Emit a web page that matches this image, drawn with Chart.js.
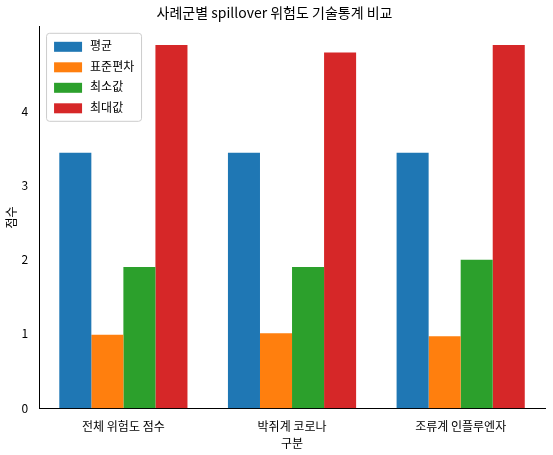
<!DOCTYPE html>
<html lang="ko">
<head>
<meta charset="UTF-8">
<script src="https://cdn.jsdelivr.net/npm/chart.js"></script>
<style>
  body { margin: 0; background: #fff; }
  #wrap { width: 553px; height: 455px; }
</style>
</head>
<body>
<div id="wrap"><canvas id="myChart"></canvas></div>
<script>
const categories = ['전체 위험도 점수', '박쥐계 코로나', '조류계 인플루엔자'];
const seriesNames = ['평균', '표준편차', '최소값', '최대값'];
const meanValues = [3.44, 3.44, 3.44];
const stdValues = [0.99, 1.01, 0.97];
const minValues = [1.9, 1.9, 2.0];
const maxValues = [4.89, 4.79, 4.89];
const colors = ['#1f77b4', '#ff7f0e', '#2ca02c', '#d62728'];

const font = "'Noto Sans CJK KR', 'Noto Sans', sans-serif";
Chart.defaults.font.family = font;
Chart.defaults.color = '#000';

// matplotlib-style legend drawn inside the plot area
const innerLegend = {
    id: 'innerLegend',
    afterDraw(chart) {
        const c = chart.ctx, a = chart.chartArea;
        const x = a.left + 7, y = a.top + 6;
        c.save();
        c.fillStyle = 'rgba(255,255,255,0.8)';
        c.strokeStyle = '#ccc';
        c.lineWidth = 1;
        c.beginPath();
        c.roundRect(x + 0.5, y + 0.5, 95, 88, 3);
        c.fill(); c.stroke();
        c.font = '12px ' + font;
        c.textBaseline = 'middle';
        chart.data.datasets.forEach((ds, i) => {
            const ry = y + 13 + i * 20.5;
            c.fillStyle = ds.backgroundColor;
            c.fillRect(x + 8, ry - 4, 28, 10);
            c.fillStyle = '#000';
            c.fillText(ds.label, x + 44, ry);
        });
        c.restore();
    }
};

const vals = [meanValues, stdValues, minValues, maxValues];
new Chart(document.getElementById('myChart'), {
    type: 'bar',
    data: {
        labels: categories,
        datasets: seriesNames.map((name, i) => ({
            label: name,
            data: vals[i],
            backgroundColor: colors[i],
            categoryPercentage: 0.76,
            barPercentage: 1.0
        }))
    },
    options: {
        responsive: true,
        maintainAspectRatio: false,
        animation: false,
        layout: { padding: { top: 4, right: 8, left: 4, bottom: 4 } },
        plugins: {
            legend: { display: false },
            tooltip: { enabled: false },
            title: {
                display: true,
                text: '사례군별 spillover 위험도 기술통계 비교',
                font: { size: 14, weight: 'normal' },
                padding: { top: 0, bottom: 6 }
            }
        },
        scales: {
            x: {
                grid: { display: false, drawTicks: true },
                border: { color: '#000' },
                ticks: { font: { size: 12 }, color: '#000' },
                title: { display: true, text: '구분', font: { size: 12 }, padding: 0 }
            },
            y: {
                min: 0, max: 5.135,
                grid: { display: false },
                border: { color: '#000' },
                ticks: { stepSize: 1, font: { size: 12 }, color: '#000',
                    callback: v => Number.isInteger(v) ? v : '' },
                title: { display: true, text: '점수', font: { size: 12 }, padding: 0 }
            }
        }
    },
    plugins: [innerLegend]
});
</script>
</body>
</html>
